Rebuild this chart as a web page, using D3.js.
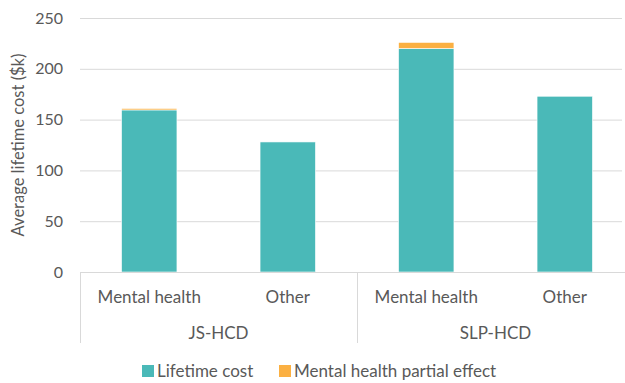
<!DOCTYPE html>
<html>
<head>
<meta charset="utf-8">
<script src="https://cdn.jsdelivr.net/npm/d3@7"></script>
<style>
  body { margin: 0; background: #fff; }
  text { font-family: Lato, "Open Sans", sans-serif; fill: #595959; }
</style>
</head>
<body>
<svg id="chart" width="625" height="383"></svg>
<script>
// data
const groups = ["JS-HCD", "SLP-HCD"]
const subCategories = ["Mental health", "Other"]
const lifetimeCost = [159.5, 128, 220, 173]
const partialEffect = [1.5, 0, 6, 0]
const seriesNames = ["Lifetime cost", "Mental health partial effect"]
const yTicks = [0, 50, 100, 150, 200, 250]

const colors = ["#4ab9b8", "#fbb042"]

const svg = d3.select("#chart")
const plotLeft = 80, plotRight = 634, plotTop = 18, plotBottom = 272

// one band per bar, keyed by group + sub category
let bars = []
groups.forEach((g, gi) => {
  subCategories.forEach((s, si) => {
    let i = gi * subCategories.length + si
    bars.push({ key: g + "|" + s, group: g, sub: s, life: lifetimeCost[i], partial: partialEffect[i] })
  })
})

const x = d3.scaleBand()
  .domain(bars.map(d => d.key))
  .range([plotLeft, plotRight])
  .paddingInner(0.6)
  .paddingOuter(0.3)

const y = d3.scaleLinear().domain([0, 250]).range([plotBottom, plotTop])

// gridlines
svg.append("g")
  .selectAll("line")
  .data(yTicks)
  .join("line")
  .attr("x1", plotLeft)
  .attr("x2", 622)
  .attr("y1", d => y(d) + 0.5)
  .attr("y2", d => y(d) + 0.5)
  .style("stroke", "#d9d9d9")
  .style("stroke-width", 1)

// y axis tick labels
svg.append("g")
  .selectAll("text")
  .data(yTicks)
  .join("text")
  .attr("x", 63)
  .attr("y", d => y(d))
  .attr("dy", "0.35em")
  .attr("text-anchor", "end")
  .style("font-size", "16px")
  .text(d => d)

// y title
svg.append("text")
  .attr("transform", `translate(24,${(plotTop + plotBottom) / 2}) rotate(-90)`)
  .attr("text-anchor", "middle")
  .style("font-size", "16.5px")
  .text("Average lifetime cost ($k)")

// stacked bars
const stack = d3.stack().keys(["life", "partial"])(bars)

svg.append("g")
  .selectAll("g")
  .data(stack)
  .join("g")
  .style("fill", (d, i) => colors[i])
  .selectAll("rect")
  .data(d => d.filter(p => p[1] - p[0] > 0))
  .join("rect")
  .attr("x", d => x(d.data.key))
  .attr("width", x.bandwidth())
  .attr("y", d => y(d[1]))
  .attr("height", d => y(d[0]) - y(d[1]))
  .style("stroke", "#fff")
  .style("stroke-width", 0.6)

// category axis
const axisG = svg.append("g")
axisG.append("line")
  .attr("x1", plotLeft).attr("x2", plotRight)
  .attr("y1", plotBottom + 0.5).attr("y2", plotBottom + 0.5)
  .style("stroke", "#d9d9d9")

let groupEdges = groups.map((g, gi) => plotLeft + gi * subCategories.length * (plotRight - plotLeft) / bars.length)
groupEdges.push(plotRight)

axisG.selectAll("line.div")
  .data(groupEdges)
  .join("line")
  .attr("class", "div")
  .attr("x1", d => d + 0.5)
  .attr("x2", d => d + 0.5)
  .attr("y1", plotBottom)
  .attr("y2", 343)
  .style("stroke", "#d9d9d9")

axisG.selectAll("text.sub")
  .data(bars)
  .join("text")
  .attr("class", "sub")
  .attr("x", d => x(d.key) + x.bandwidth() / 2)
  .attr("y", 297)
  .attr("dy", "0.35em")
  .attr("text-anchor", "middle")
  .style("font-size", "17px")
  .text(d => d.sub)

axisG.selectAll("text.grp")
  .data(groups)
  .join("text")
  .attr("class", "grp")
  .attr("x", (d, i) => (groupEdges[i] + groupEdges[i + 1]) / 2)
  .attr("y", 333)
  .attr("dy", "0.35em")
  .attr("text-anchor", "middle")
  .style("font-size", "17px")
  .text(d => d)

// legend
const legend = svg.append("g").attr("transform", "translate(142,371)")
const legendX = [0, 137]
seriesNames.forEach((n, i) => {
  let lg = legend.append("g").attr("transform", `translate(${legendX[i]},0)`)
  lg.append("rect").attr("x", 0).attr("y", -6).attr("width", 12).attr("height", 12).style("fill", colors[i])
  lg.append("text").attr("x", 15).attr("dy", "0.35em").style("font-size", "17px").text(n)
})
</script>
</body>
</html>
